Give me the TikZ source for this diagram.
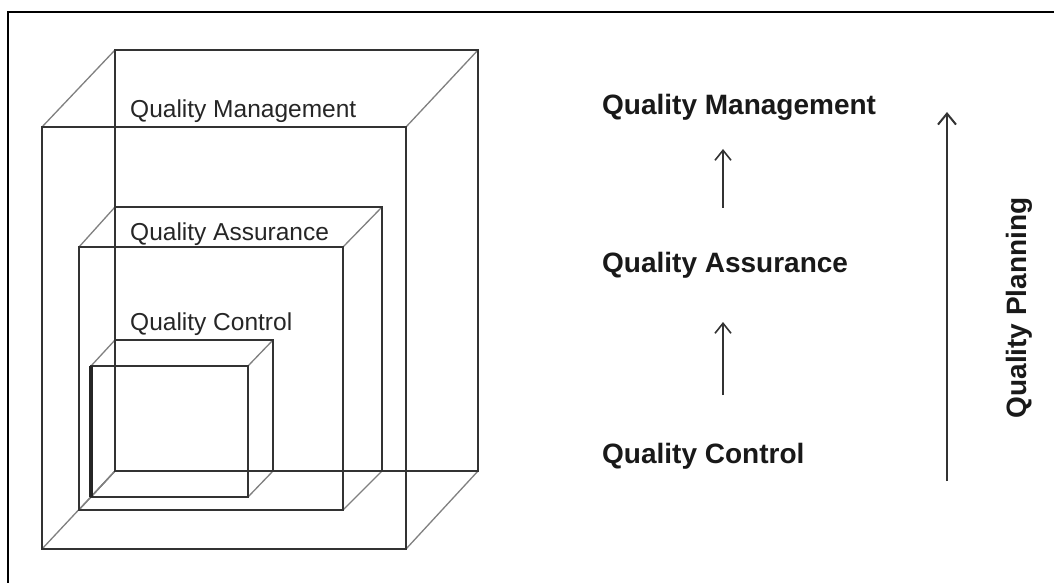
\documentclass[tikz,border=0pt]{standalone}
\usepackage{fontspec}
\setmainfont{Liberation Sans}
\usetikzlibrary{arrows.meta}
\begin{document}
\begin{tikzpicture}[x=1bp,y=-1bp,
  edge/.style={draw=black!80, line width=2bp},
  diag/.style={draw=black!50, line width=1.3bp},
  inlabel/.style={font=\fontsize{24.5bp}{28bp}\selectfont, inner sep=0pt, anchor=base west, text=black!85},
  outlabel/.style={font=\bfseries\fontsize{28bp}{32bp}\selectfont, inner sep=0pt, anchor=base west, text=black!90},
  up/.style={draw=black!80, line width=1.6bp, -{Straight Barb[length=10bp,width=16bp]}}]
\useasboundingbox (0,0) rectangle (1054,583);
\fill[white] (0,0) rectangle (1054,583);
% frame (only top and left edges visible)
\draw[line width=2.2bp] (1054,12) -- (8,12) -- (8,583);
% nested wire boxes
\foreach \fx/\fy/\gx/\gy/\bx/\by/\cx/\cy in {42/127/406/549/115/50/478/471, 79/247/343/510/115/207/382/471, 91/366/248/497/115/340/273/471} {
  \draw[diag] (\fx,\fy) -- (\bx,\by) (\gx,\fy) -- (\cx,\by) (\gx,\gy) -- (\cx,\cy) (\fx,\gy) -- (\bx,\cy);
  \draw[edge] (\bx,\by) rectangle (\cx,\cy);
  \draw[edge] (\fx,\fy) rectangle (\gx,\gy);
}
\draw[draw=black!85, line width=3.5bp] (91,366) -- (91,497);
% labels inside the boxes
\node[inlabel] (lqm) at (130,118) {Quality Management};
\node[inlabel] (lqa) at (130,241) {Quality Assurance};
\node[inlabel] (lqc) at (130,330) {Quality Control};
% right-hand hierarchy
\node[outlabel] (qm) at (602,115) {Quality Management};
\node[outlabel] (qa) at (602,273) {Quality Assurance};
\node[outlabel] (qc) at (602,463) {Quality Control};
\coordinate (a1s) at (723,208);
\coordinate (a1e) at (723,149);
\coordinate (a2s) at (723,395);
\coordinate (a2e) at (723,322);
\coordinate (pls) at (947,481);
\coordinate (ple) at (947,112);
\draw[up] (a1s) -- (a1e);
\draw[up] (a2s) -- (a2e);
\draw[up, line width=2bp, -{Straight Barb[length=11bp,width=18bp]}] (pls) -- (ple);
\node[outlabel, anchor=center, rotate=90] (qp) at (1019,308) {Quality Planning};
\end{tikzpicture}
\end{document}
